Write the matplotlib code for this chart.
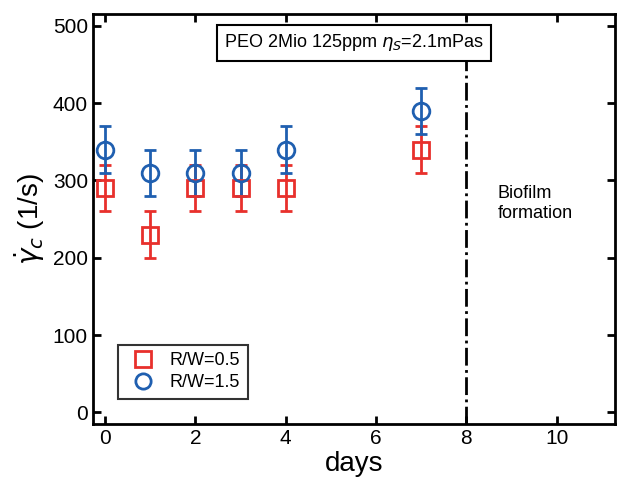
import matplotlib.pyplot as plt
from matplotlib.lines import Line2D

days_a = [0, 1, 2, 3, 4, 7]
rate_a = [290, 230, 290, 290, 290, 340]
err_a = [30, 30, 30, 30, 30, 30]
days_b = [0, 1, 2, 3, 4, 7]
rate_b = [340, 310, 310, 310, 340, 390]
err_b = [30, 30, 30, 30, 30, 30]

red = '#e8302c'
blue = '#1f5fb0'

plt.rcParams['font.family'] = ['Liberation Sans', 'DejaVu Sans']
fig = plt.figure(figsize=(6.19, 4.88), dpi=100)
ax = fig.add_axes([0.150, 0.131, 0.844, 0.840])

ax.errorbar(days_a, rate_a, yerr=err_a, fmt='s', ms=12, mfc='none', mec=red,
            mew=2, ecolor=red, elinewidth=2, capsize=4, capthick=2)
ax.errorbar(days_b, rate_b, yerr=err_b, fmt='o', ms=12, mfc='none', mec=blue,
            mew=2, ecolor=blue, elinewidth=2, capsize=4, capthick=2)
ax.axvline(8, color='black', lw=2, ls='-.')

ax.set_xlim(-0.27, 11.3)
ax.set_ylim(-15, 515)
ax.set_xticks([0, 2, 4, 6, 8, 10])
ax.set_yticks([0, 100, 200, 300, 400, 500])
ax.tick_params(labelsize=15, width=2, length=6, direction='in', top=True, right=True)
for s in ax.spines.values():
    s.set_linewidth(2)
ax.set_xlabel('days', fontsize=20, labelpad=2)
ax.set_ylabel(r'$\dot{\gamma}_c$ (1/s)', fontsize=20)

ax.text(0.5, 0.93, r'PEO 2Mio 125ppm $\eta_S$=2.1mPas', transform=ax.transAxes,
        ha='center', va='center', fontsize=13,
        bbox=dict(boxstyle='square,pad=0.4', fc='white', ec='black', lw=1.5))
ax.text(8.7, 270, 'Biofilm\nformation', fontsize=13, va='center')

handles = [
    Line2D([], [], ls='none', marker='s', ms=11, mfc='none', mec=red, mew=2),
    Line2D([], [], ls='none', marker='o', ms=11, mfc='none', mec=blue, mew=2),
]
leg = ax.legend(handles, ['R/W=0.5', 'R/W=1.5'], loc='lower left',
                bbox_to_anchor=(0.03, 0.04), fontsize=13, frameon=True,
                fancybox=False, edgecolor='black', handletextpad=0.5,
                borderpad=0.4, labelspacing=0.3)
leg.get_frame().set_linewidth(1.5)

fig.savefig('out.png', dpi=100)
